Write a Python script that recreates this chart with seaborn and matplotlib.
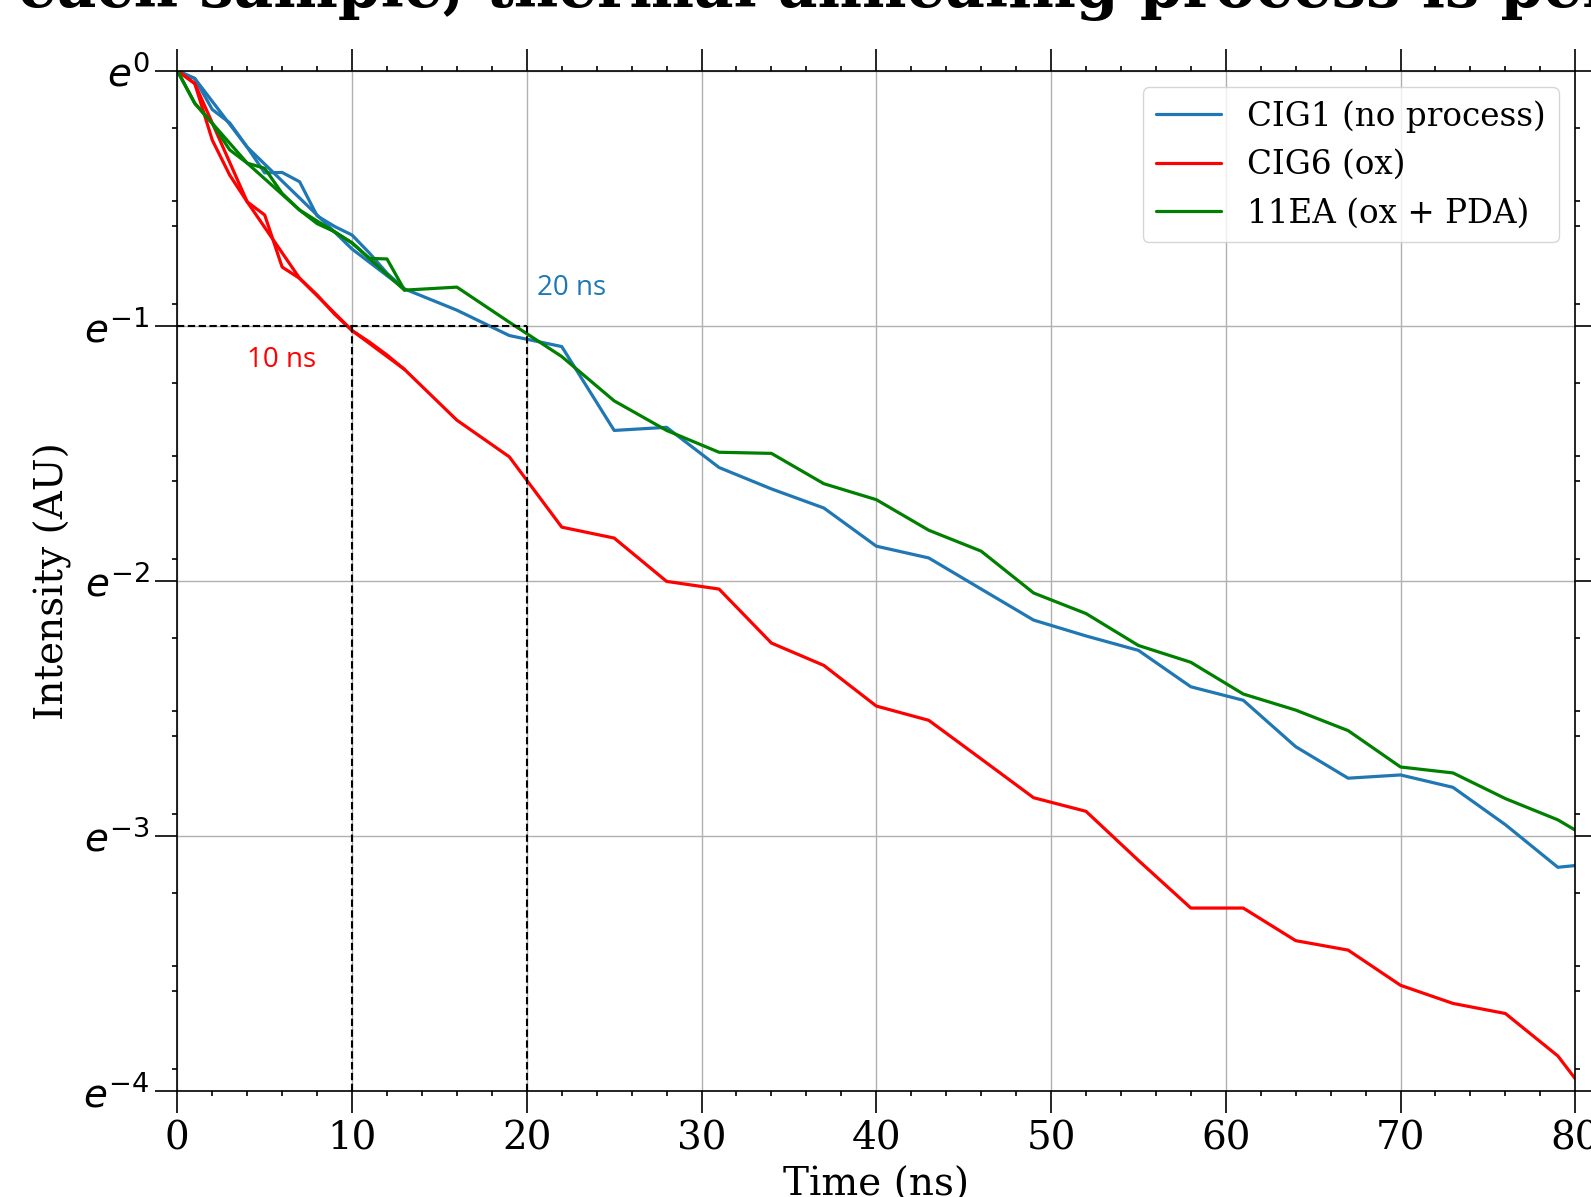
import numpy as np
import matplotlib
matplotlib.use("Agg")
import matplotlib.pyplot as plt
from matplotlib.ticker import FixedLocator, FuncFormatter, MultipleLocator, NullFormatter
import seaborn as sns

# ---------------------------------------------------------------------------
# Normalised PL decay (intensity, AU) versus time (ns)
# ---------------------------------------------------------------------------
# dense sampling of the first nanoseconds
t_early = [0, 1, 2, 3, 4, 5, 6, 7, 8, 9, 10, 11, 12, 13]
# full decay, sampled every 3 ns
t_full = [0, 1, 4, 7, 10, 13, 16, 19, 22, 25, 28, 31, 34, 37, 40, 43, 46,
          49, 52, 55, 58, 61, 64, 67, 70, 73, 76, 79, 80]

cig1_early = [1.000, 0.970, 0.859, 0.815, 0.741, 0.670, 0.671, 0.647, 0.566,
              0.543, 0.525, 0.489, 0.452, 0.425]
cig1_full = [1.000, 0.970, 0.741, 0.607, 0.497, 0.425, 0.391, 0.354, 0.339,
             0.244, 0.247, 0.211, 0.194, 0.180, 0.155, 0.148, 0.131, 0.116,
             0.109, 0.103, 0.0893, 0.0847, 0.0706, 0.0624, 0.0632, 0.0602,
             0.0520, 0.0440, 0.0443]

cig6_early = [1.000, 0.951, 0.762, 0.664, 0.598, 0.568, 0.463, 0.443, 0.415,
              0.385, 0.361, 0.345, 0.328, 0.310]
cig6_full = [1.000, 0.951, 0.598, 0.443, 0.361, 0.310, 0.254, 0.220, 0.167,
             0.160, 0.135, 0.131, 0.106, 0.0971, 0.0828, 0.0783, 0.0673,
             0.0578, 0.0548, 0.0452, 0.0375, 0.0375, 0.0330, 0.0318, 0.0277,
             0.0258, 0.0248, 0.0210, 0.0192]

ea11_early = [1.000, 0.880, 0.813, 0.733, 0.696, 0.682, 0.618, 0.579, 0.549,
              0.532, 0.509, 0.479, 0.478, 0.423]
ea11_full = [1.000, 0.880, 0.696, 0.579, 0.509, 0.423, 0.428, 0.373, 0.326,
             0.274, 0.244, 0.224, 0.223, 0.198, 0.186, 0.165, 0.152, 0.129,
             0.119, 0.105, 0.0983, 0.0868, 0.0815, 0.0752, 0.0652, 0.0637,
             0.0576, 0.0530, 0.0509]

labels = ["CIG1 (no process)", "CIG6 (ox)", "11EA (ox + PDA)"]
colors = ["#1f77b4", "#ff0000", "#008000"]

# 1/e lifetimes marked on the plot (ns)
tau_cig6 = 10
tau_cig1 = 20

# ---------------------------------------------------------------------------
sns.set_style("ticks")
plt.rcParams.update({
    "font.family": ["DejaVu Serif"],
    "mathtext.fontset": "dejavusans",
    "text.color": "black",
    "axes.labelcolor": "black",
    "axes.edgecolor": "black",
    "axes.linewidth": 1.2,
    "xtick.color": "black",
    "ytick.color": "black",
})

fig = plt.figure(figsize=(15.91, 11.97), dpi=100)
ax = fig.add_axes([0.11144, 0.08872, 0.87869, 0.85221])

series = [
    (cig1_early, cig1_full),
    (cig6_early, cig6_full),
    (ea11_early, ea11_full),
]
handles = []
for (y_early, y_full), color in zip(series, colors):
    sns.lineplot(x=t_early, y=y_early, ax=ax, color=color, lw=2.3,
                 estimator=None, sort=False, legend=False)
    sns.lineplot(x=t_full, y=y_full, ax=ax, color=color, lw=2.3,
                 estimator=None, sort=False, legend=False)
    handles.append(ax.get_lines()[-1])

ax.set_yscale("log", base=np.e)
ax.set_xlim(0, 80)
ax.set_ylim(np.exp(-4), 1.0)

# 1/e guide lines
inv_e = np.exp(-1)
ax.hlines(inv_e, 0, tau_cig1, colors="black", linestyles=(0, (3.5, 1.7)),
          lw=1.5, zorder=3)
ax.vlines([tau_cig6, tau_cig1], np.exp(-4), inv_e, colors="black",
          linestyles=(0, (3.5, 1.7)), lw=1.5, zorder=3)
ax.text(tau_cig1 + 0.6, np.exp(-0.852), f"{tau_cig1} ns", color=colors[0],
        fontsize=20, family=["Open Sans", "DejaVu Sans"], va="center", ha="left")
ax.text(tau_cig6 - 6.0, np.exp(-1.135), f"{tau_cig6} ns", color=colors[1],
        fontsize=20, family=["Open Sans", "DejaVu Sans"], va="center", ha="left")

# ticks
ax.xaxis.set_major_locator(MultipleLocator(10))
ax.xaxis.set_minor_locator(MultipleLocator(2))
ax.yaxis.set_major_locator(FixedLocator(np.exp(np.arange(-4, 1))))
minor_y = [s * np.exp(n) for n in range(-5, 2) for s in (0.2, 0.4, 0.6, 0.8)]
minor_y = [v for v in minor_y if np.exp(-4) < v < 1.0]
ax.yaxis.set_minor_locator(FixedLocator(minor_y))
ax.yaxis.set_major_formatter(
    FuncFormatter(lambda v, pos: r"$e^{%d}$" % int(round(np.log(v)))))
ax.yaxis.set_minor_formatter(NullFormatter())

ax.tick_params(which="both", direction="out", top=True, right=True,
               width=1.2)
ax.tick_params(which="major", length=15.8, labelsize=28)
ax.tick_params(which="minor", length=3.6)
ax.tick_params(axis="x", which="major", pad=5.5)
ax.tick_params(axis="y", which="major", pad=4)

ax.grid(True, which="major", color="#b0b0b0", lw=1.0)
ax.set_axisbelow(True)

ax.set_xlabel("Time (ns)", fontsize=28)
ax.set_ylabel("Intensity (AU)", fontsize=28)
ax.xaxis.set_label_coords(0.5, -0.075)
ax.yaxis.set_label_coords(-0.075, 0.5)

ax.legend(handles, labels, loc="upper right", fontsize=23.5)

fig.text(18 / 1591, 1190 / 1197,
         "each sample, thermal annealing process is performed",
         fontsize=44, fontweight="bold", ha="left", va="baseline")

fig.savefig("out.png", dpi=100)
